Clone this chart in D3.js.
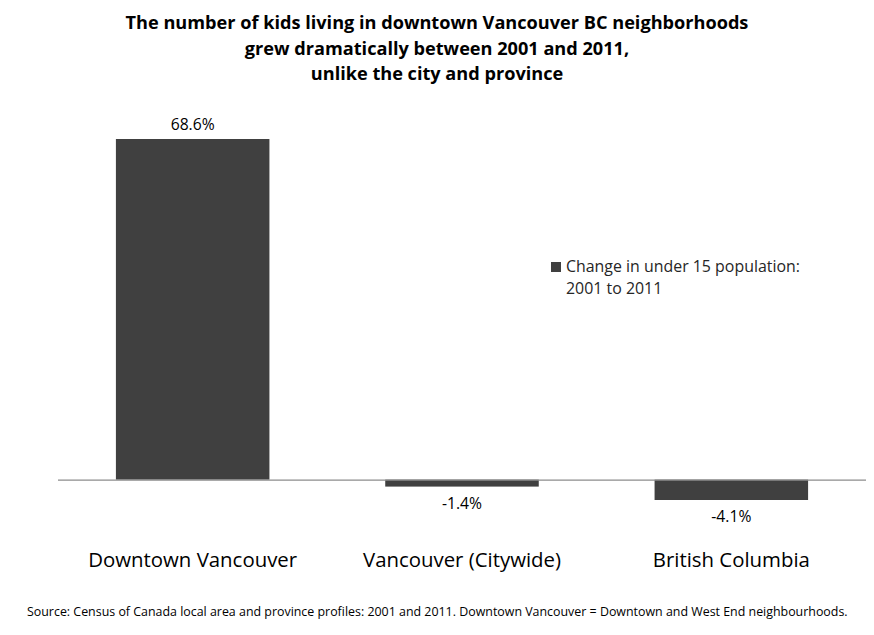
<!DOCTYPE html>
<html>
<head>
<meta charset="utf-8">
<script src="https://cdn.jsdelivr.net/npm/d3@7"></script>
<style>
  body { margin: 0; background: #fff; }
  svg { display: block; font-family: "Open Sans", "Noto Sans", sans-serif; }
</style>
</head>
<body>
<div id="chart"></div>
<script>
// Change in under-15 population, 2001 to 2011
const categories = ["Downtown Vancouver", "Vancouver (Citywide)", "British Columbia"];
const changePct = [68.6, -1.4, -4.1];
const valueLabels = ["68.6%", "-1.4%", "-4.1%"];
const titleLines = [
  "The number of kids living in downtown Vancouver BC neighborhoods",
  "grew dramatically between 2001 and 2011,",
  "unlike the city and province"
];
const legendLines = ["Change in under 15 population:", "2001 to 2011"];
const sourceNote = "Source: Census of Canada local area and province profiles: 2001 and 2011. Downtown Vancouver = Downtown and West End neighbourhoods.";

(function () {
  const width = 874;
  const height = 635;
  const barColor = "#404040";

  const svg = d3.select("#chart")
    .append("svg")
    .attr("width", width)
    .attr("height", height);

  // scale the font of a whole group so that its first text is targetWidth wide
  function fitGroup(sel, baseSize, targetWidth) {
    const len = sel.node().getComputedTextLength();
    sel.attr("font-size", (baseSize * targetWidth / len).toFixed(2));
  }

  const x = d3.scaleBand()
    .domain(categories)
    .range([58, 866])
    .paddingInner(0.43)
    .paddingOuter(0.215);

  const y = d3.scaleLinear()
    .domain([-4.1, 68.6])
    .range([500, 139]);

  // title
  const title = svg.append("g")
    .selectAll("text")
    .data(titleLines)
    .join("text")
    .attr("x", 437)
    .attr("y", (d, i) => 29 + i * 25.5)
    .attr("text-anchor", "middle")
    .attr("font-weight", "bold")
    .attr("font-size", 18)
    .attr("fill", "#000")
    .text((d) => d);
  fitGroup(title, 18, 623);

  // bars
  svg.append("g")
    .selectAll("rect")
    .data(changePct)
    .join("rect")
    .attr("x", (d, i) => x(categories[i]))
    .attr("width", x.bandwidth())
    .attr("y", (d) => y(Math.max(0, d)))
    .attr("height", (d) => Math.abs(y(d) - y(0)))
    .attr("fill", barColor);

  // zero line
  svg.append("line")
    .attr("x1", 58)
    .attr("x2", 866)
    .attr("y1", y(0) + 0.5)
    .attr("y2", y(0) + 0.5)
    .attr("stroke", "#8c8c8c")
    .attr("stroke-width", 1.2);

  // value labels
  const values = svg.append("g")
    .selectAll("text")
    .data(changePct)
    .join("text")
    .attr("x", (d, i) => x(categories[i]) + x.bandwidth() / 2)
    .attr("y", (d) => d >= 0 ? y(d) - 9 : y(d) + 22)
    .attr("text-anchor", "middle")
    .attr("font-size", 14)
    .attr("fill", "#000")
    .text((d, i) => valueLabels[i]);
  fitGroup(values, 14, 44);

  // category labels
  const cats = svg.append("g")
    .selectAll("text")
    .data(categories)
    .join("text")
    .attr("x", (d) => x(d) + x.bandwidth() / 2)
    .attr("y", 567)
    .attr("text-anchor", "middle")
    .attr("font-size", 19)
    .attr("fill", "#000")
    .text((d) => d);
  fitGroup(cats, 19, 209);

  // legend
  const legend = svg.append("g").attr("transform", "translate(551,262)");
  legend.append("rect")
    .attr("width", 10)
    .attr("height", 10)
    .attr("fill", barColor);
  const legendText = legend.selectAll("text")
    .data(legendLines)
    .join("text")
    .attr("x", 15)
    .attr("y", (d, i) => 10 + i * 22)
    .attr("font-size", 14)
    .attr("fill", "#262626")
    .text((d) => d);
  fitGroup(legendText, 14, 234);

  // source note
  const src = svg.append("text")
    .attr("x", 27)
    .attr("y", 616)
    .attr("font-size", 12)
    .attr("fill", "#000")
    .text(sourceNote);
  fitGroup(src, 12, 821);
})();
</script>
</body>
</html>
